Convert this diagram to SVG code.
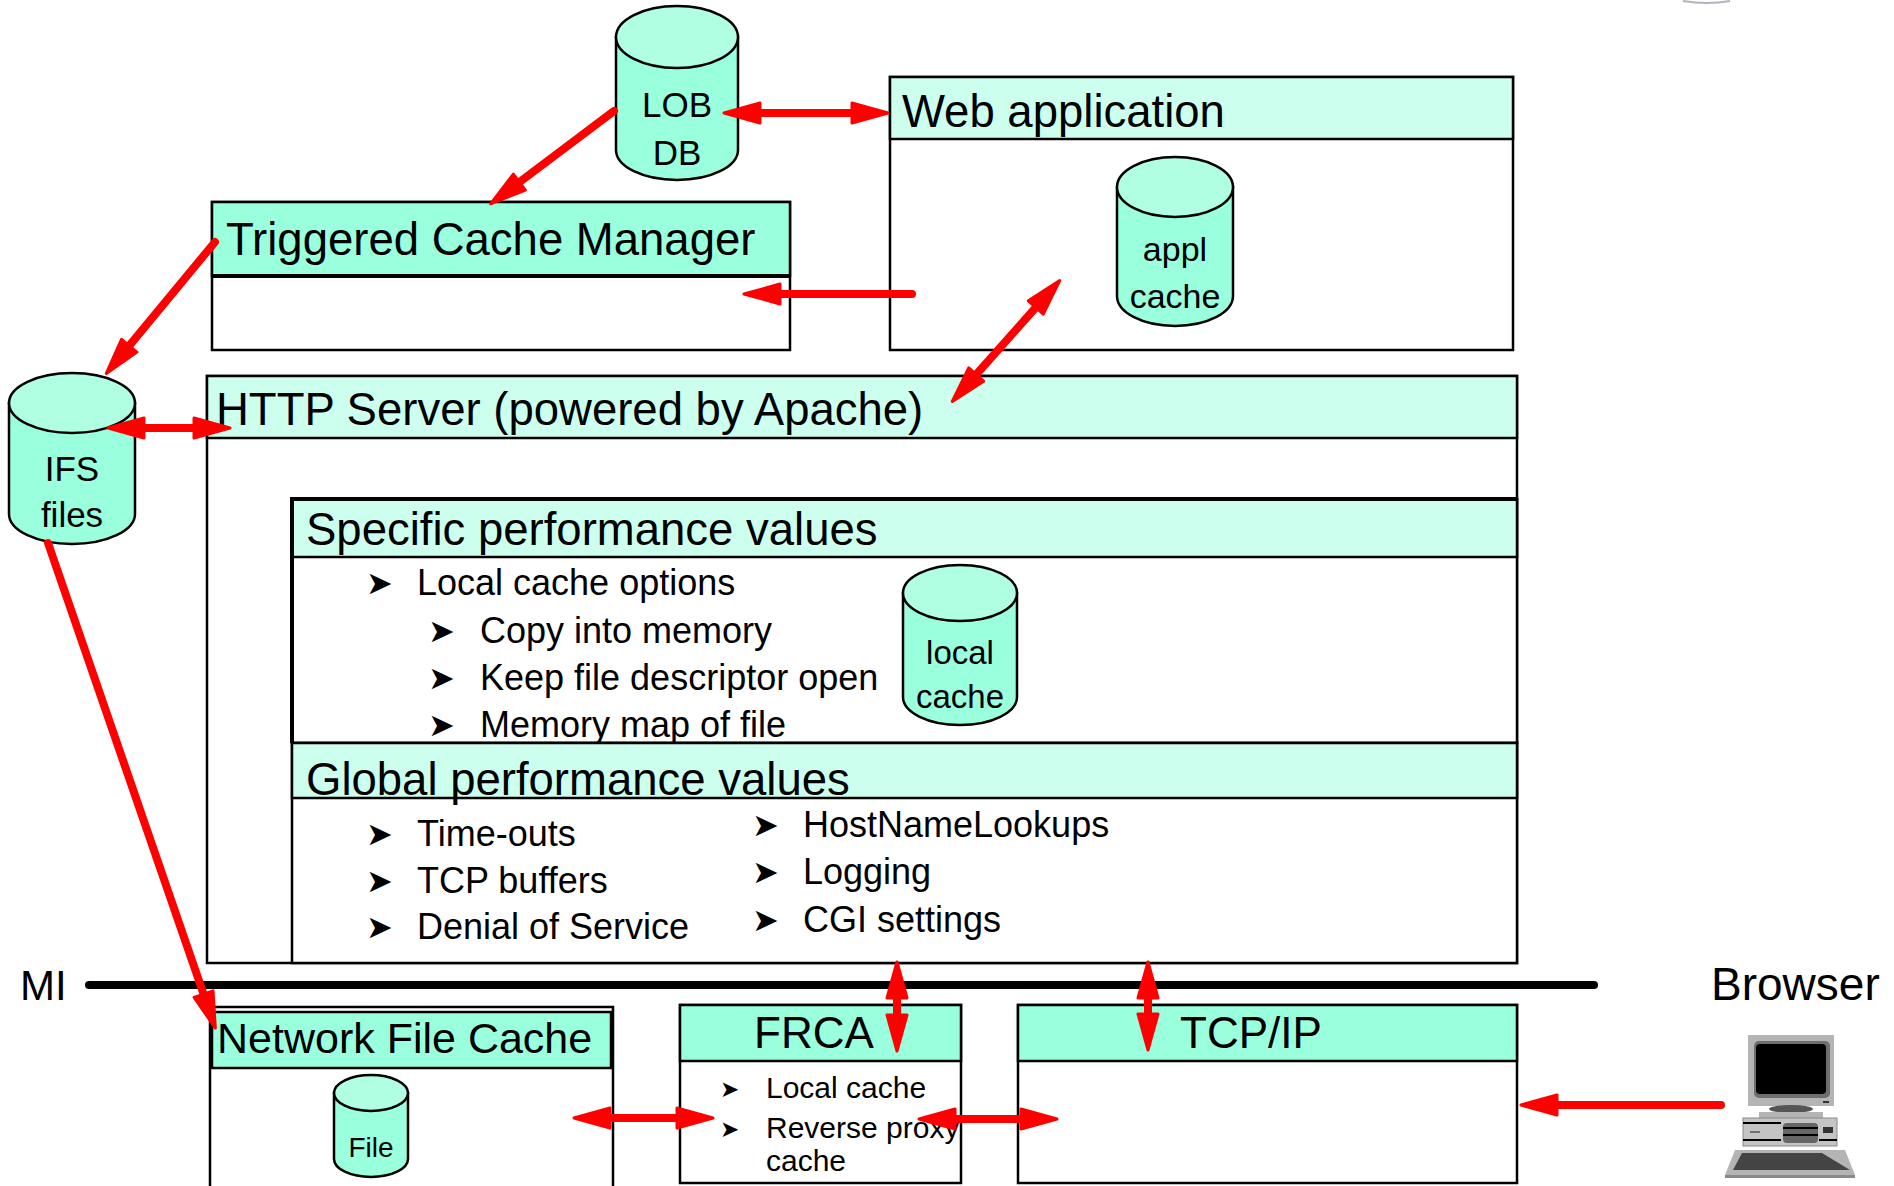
<svg xmlns="http://www.w3.org/2000/svg" width="1894" height="1186" viewBox="0 0 1894 1186">
<style>
  .box{fill:#fff;stroke:#000;stroke-width:2.5}
  .hdr{fill:#99FFDD;stroke:#000;stroke-width:2.5}
  .hdrl{fill:#CCFFEE;stroke:#000;stroke-width:2.5}
  .t{font-family:"Liberation Sans",Arial,Helvetica,sans-serif;fill:#000}
  .h{font-size:45.5px}
  .b{font-size:36px}
  .c{text-anchor:middle}
  .bul{font-family:"DejaVu Sans",sans-serif;font-size:32px;fill:#000}
  .bs{font-family:"DejaVu Sans",sans-serif;font-size:23px;fill:#000}
  .cylb{fill:#99FFDD;stroke:#000;stroke-width:2.5}
  .cylt{fill:#B0FFE2;stroke:#000;stroke-width:2.5}
  .arrow{stroke:#f00;stroke-width:8;stroke-linecap:round;fill:none}
</style>
<defs>
  <marker id="head" viewBox="0 0 40 24" markerWidth="40" markerHeight="24" refX="22" refY="12" orient="auto-start-reverse" markerUnits="userSpaceOnUse">
    <path d="M2,2 L38,12 L2,22 Z" fill="#f00" stroke="#f00" stroke-width="3" stroke-linejoin="round"/>
  </marker>
</defs>
<rect width="1894" height="1186" fill="#fff"/>

<!-- faint edge of an object cut off at the top border -->
<path d="M1683,1 Q1707,5 1730,1" stroke="#7a848c" stroke-width="2" fill="none" opacity="0.6"/>

<!-- LOB database -->
<g id="lob-db">
  <path class="cylb" d="M616,37 L616,150 A61,30 0 0 0 738,150 L738,37 Z"/>
  <ellipse class="cylt" cx="677" cy="37" rx="61" ry="31"/>
  <text class="t c" x="677" y="117" font-size="35">LOB</text>
  <text class="t c" x="677" y="165" font-size="35">DB</text>
</g>

<!-- Web application -->
<g id="web-app">
  <rect class="box" x="890" y="77" width="623" height="273"/>
  <rect class="hdrl" x="890" y="77" width="623" height="62"/>
  <text class="t h" x="902" y="127">Web application</text>
</g>
<g id="appl-cache">
  <path class="cylb" d="M1117,187 L1117,296 A58,30 0 0 0 1233,296 L1233,187 Z"/>
  <ellipse class="cylt" cx="1175" cy="187" rx="58" ry="30"/>
  <text class="t c" x="1175" y="261" font-size="34">appl</text>
  <text class="t c" x="1175" y="308" font-size="34">cache</text>
</g>

<!-- Triggered Cache Manager -->
<g id="tcm">
  <rect class="box" x="212" y="202" width="578" height="148"/>
  <rect class="hdr" x="212" y="202" width="578" height="74"/>
  <line x1="212" y1="276" x2="790" y2="276" stroke="#000" stroke-width="4"/>
  <text class="t h" x="226" y="255">Triggered Cache Manager</text>
</g>

<!-- IFS files -->
<g id="ifs-files">
  <path class="cylb" d="M9,403 L9,514 A63,30 0 0 0 135,514 L135,403 Z"/>
  <ellipse class="cylt" cx="72" cy="403" rx="63" ry="30"/>
  <text class="t c" x="72" y="481" font-size="35">IFS</text>
  <text class="t c" x="72" y="527" font-size="35">files</text>
</g>

<!-- HTTP Server -->
<g id="http-server">
  <rect class="box" x="207" y="376" width="1310" height="587"/>
  <rect class="hdrl" x="207" y="376" width="1310" height="62"/>
  <text class="t h" x="216" y="425">HTTP Server (powered by Apache)</text>
</g>

<!-- Specific performance values -->
<g id="specific-values">
  <rect class="box" x="292" y="499" width="1225" height="244"/>
  <rect class="hdrl" x="292" y="499" width="1225" height="58"/>
  <path d="M292,743 L292,499 L1517,499" fill="none" stroke="#000" stroke-width="4"/>
  <text class="t h" x="306" y="545">Specific performance values</text>
  <text class="bul" x="366" y="594">➤</text>
  <text class="t b" x="417" y="595">Local cache options</text>
  <text class="bul" x="428" y="642">➤</text>
  <text class="t b" x="480" y="643">Copy into memory</text>
  <text class="bul" x="428" y="689">➤</text>
  <text class="t b" x="480" y="690">Keep file descriptor open</text>
  <text class="bul" x="428" y="736">➤</text>
  <text class="t b" x="480" y="737">Memory map of file</text>
</g>
<g id="local-cache">
  <path class="cylb" d="M903,593 L903,697 A57,28 0 0 0 1017,697 L1017,593 Z"/>
  <ellipse class="cylt" cx="960" cy="593" rx="57" ry="28"/>
  <text class="t c" x="960" y="664" font-size="33">local</text>
  <text class="t c" x="960" y="708" font-size="33">cache</text>
</g>

<!-- Global performance values -->
<g id="global-values">
  <rect class="box" x="292" y="743" width="1225" height="220"/>
  <rect class="hdrl" x="292" y="743" width="1225" height="55"/>
  <text class="t h" x="306" y="795">Global performance values</text>
  <text class="bul" x="366" y="845">➤</text>
  <text class="t b" x="417" y="846">Time-outs</text>
  <text class="bul" x="366" y="892">➤</text>
  <text class="t b" x="417" y="893">TCP buffers</text>
  <text class="bul" x="366" y="938">➤</text>
  <text class="t b" x="417" y="939">Denial of Service</text>
  <text class="bul" x="752" y="836">➤</text>
  <text class="t b" x="803" y="837">HostNameLookups</text>
  <text class="bul" x="752" y="883">➤</text>
  <text class="t b" x="803" y="884">Logging</text>
  <text class="bul" x="752" y="931">➤</text>
  <text class="t b" x="803" y="932">CGI settings</text>
</g>

<!-- MI boundary -->
<g id="mi-line">
  <line x1="89" y1="985" x2="1594" y2="985" stroke="#000" stroke-width="8" stroke-linecap="round"/>
  <text class="t" x="20" y="1000" font-size="42">MI</text>
</g>

<!-- Network File Cache -->
<g id="network-file-cache">
  <rect class="box" x="210" y="1007" width="403" height="200"/>
  <rect class="hdr" x="212" y="1012" width="399" height="56" stroke-width="3"/>
  <text class="t" x="217" y="1053" font-size="43">Network File Cache</text>
</g>
<g id="file">
  <path class="cylb" d="M334,1093 L334,1159 A37,18 0 0 0 408,1159 L408,1093 Z"/>
  <ellipse class="cylt" cx="371" cy="1093" rx="37" ry="18"/>
  <text class="t c" x="371" y="1157" font-size="28">File</text>
</g>

<!-- FRCA -->
<g id="frca">
  <rect class="box" x="680" y="1005" width="281" height="178"/>
  <rect class="hdr" x="680" y="1005" width="281" height="56"/>
  <text class="t c" x="814" y="1048" font-size="44">FRCA</text>
  <text class="bs" x="720" y="1097">➤</text>
  <text class="t" x="766" y="1098" font-size="30">Local cache</text>
  <text class="bs" x="720" y="1137">➤</text>
  <text class="t" x="766" y="1138" font-size="30">Reverse proxy</text>
  <text class="t" x="766" y="1171" font-size="30">cache</text>
</g>

<!-- TCP/IP -->
<g id="tcpip">
  <rect class="box" x="1018" y="1005" width="499" height="178"/>
  <rect class="hdr" x="1018" y="1005" width="499" height="56"/>
  <text class="t" x="1180" y="1048" font-size="44">TCP/IP</text>
</g>

<!-- Browser workstation -->
<g id="browser">
  <text class="t" x="1711" y="1000" font-size="46">Browser</text>
  <rect x="1748" y="1035" width="86" height="71" fill="#b4b4b4"/>
  <rect x="1754" y="1041" width="76" height="57" rx="5" fill="#6e6e6e"/>
  <rect x="1756" y="1044" width="70" height="50" rx="4" fill="#000"/>
  <rect x="1823" y="1101" width="6" height="2" fill="#333"/>
  <ellipse cx="1791" cy="1109" rx="22" ry="4" fill="#555"/>
  <rect x="1759" y="1112" width="64" height="6" fill="#b4b4b4"/>
  <rect x="1743" y="1118" width="94" height="28" fill="#c4c4c4" stroke="#888" stroke-width="1"/>
  <line x1="1743" y1="1123" x2="1781" y2="1123" stroke="#000" stroke-width="2"/>
  <line x1="1743" y1="1140" x2="1781" y2="1140" stroke="#000" stroke-width="2"/>
  <line x1="1819" y1="1140" x2="1837" y2="1140" stroke="#000" stroke-width="2"/>
  <line x1="1750" y1="1132" x2="1760" y2="1132" stroke="#555" stroke-width="1.5"/>
  <rect x="1783" y="1123" width="35" height="20" rx="4" fill="#666"/>
  <line x1="1783" y1="1128" x2="1818" y2="1128" stroke="#000" stroke-width="2"/>
  <line x1="1783" y1="1135" x2="1818" y2="1135" stroke="#000" stroke-width="2"/>
  <rect x="1823" y="1127" width="10" height="6" fill="#333"/>
  <polygon points="1735,1150 1845,1150 1855,1175 1725,1175" fill="#b4b4b4"/>
  <polygon points="1725,1175 1855,1175 1855,1178 1725,1178" fill="#8a8a8a"/>
  <polygon points="1742,1153 1822,1153 1850,1170 1733,1170" fill="#444"/>
</g>

<!-- Connectors -->
<g id="connectors">
  <line class="arrow" x1="740" y1="113" x2="872" y2="113" marker-start="url(#head)" marker-end="url(#head)"/>
  <line class="arrow" x1="614" y1="111" x2="503.4" y2="194.2" marker-end="url(#head)"/>
  <line class="arrow" x1="912" y1="294" x2="760" y2="294" marker-end="url(#head)"/>
  <line class="arrow" x1="215" y1="242" x2="116.5" y2="361.1" marker-end="url(#head)"/>
  <line class="arrow" x1="1049.1" y1="292.5" x2="962.9" y2="389.5" marker-start="url(#head)" marker-end="url(#head)"/>
  <line class="arrow" x1="124" y1="428" x2="214" y2="428" marker-start="url(#head)" marker-end="url(#head)"/>
  <line class="arrow" x1="48" y1="543" x2="210.1" y2="1013" marker-end="url(#head)"/>
  <line class="arrow" x1="897" y1="978" x2="897" y2="1035" marker-start="url(#head)" marker-end="url(#head)"/>
  <line class="arrow" x1="1148" y1="978" x2="1148" y2="1034" marker-start="url(#head)" marker-end="url(#head)"/>
  <line class="arrow" x1="590" y1="1118" x2="697" y2="1118" marker-start="url(#head)" marker-end="url(#head)"/>
  <line class="arrow" x1="935" y1="1119" x2="1041" y2="1119" marker-start="url(#head)" marker-end="url(#head)"/>
  <line class="arrow" x1="1721" y1="1105" x2="1537" y2="1105" marker-end="url(#head)"/>
</g>
</svg>
